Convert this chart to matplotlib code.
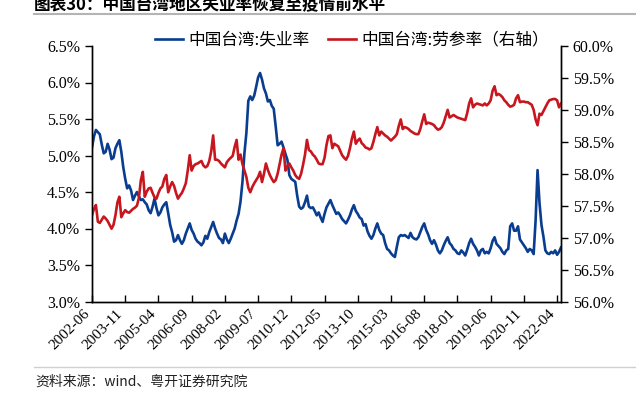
import pandas as pd
import matplotlib
matplotlib.use('Agg')
import matplotlib.pyplot as plt
from matplotlib.lines import Line2D
from matplotlib.ticker import FuncFormatter, MultipleLocator

# --- data: monthly, 2002-06 .. 2022-06 ---
start_month = '2002-06'

unemp = [
    5.11, 5.26, 5.35, 5.32, 5.29, 5.15, 5.03,
    5.05, 5.16, 5.08, 4.95, 4.97, 5.10, 5.16, 5.21, 5.05, 4.84, 4.68, 4.55,
    4.59, 4.52, 4.39, 4.45, 4.50, 4.44, 4.39, 4.40, 4.36, 4.33, 4.25, 4.21,
    4.30, 4.41, 4.28, 4.18, 4.22, 4.29, 4.33, 4.36, 4.21, 4.05, 3.95, 3.82,
    3.84, 3.91, 3.84, 3.79, 3.84, 3.93, 4.00, 4.07, 3.98, 3.93, 3.86, 3.82,
    3.80, 3.77, 3.81, 3.90, 3.86, 3.95, 4.02, 4.09, 4.00, 3.93, 3.87, 3.85,
    3.80, 3.93, 3.85, 3.80, 3.86, 3.93, 4.00, 4.11, 4.20, 4.37, 4.64, 5.03,
    5.31, 5.75, 5.81, 5.76, 5.82, 5.94, 6.07, 6.13, 6.04, 5.92, 5.85, 5.74,
    5.76, 5.68, 5.64, 5.40, 5.14, 5.16, 5.19, 5.11, 5.02, 4.94, 4.73, 4.68,
    4.66, 4.64, 4.45, 4.30, 4.27, 4.29, 4.36, 4.45, 4.30, 4.28, 4.29, 4.24,
    4.18, 4.22, 4.15, 4.09, 4.20, 4.29, 4.34, 4.39, 4.32, 4.26, 4.20, 4.22,
    4.18, 4.13, 4.10, 4.07, 4.12, 4.18, 4.26, 4.32, 4.24, 4.20, 4.15, 4.13,
    4.04, 4.06, 3.96, 3.90, 3.86, 3.91, 4.00, 4.07, 3.98, 3.93, 3.91, 3.80,
    3.72, 3.70, 3.66, 3.63, 3.61, 3.75, 3.88, 3.91, 3.90, 3.91, 3.89, 3.87,
    3.94, 3.88, 3.86, 3.85, 3.88, 3.95, 4.02, 4.07, 3.98, 3.92, 3.84, 3.79,
    3.84, 3.78, 3.70, 3.66, 3.70, 3.77, 3.83, 3.88, 3.80, 3.77, 3.72, 3.70,
    3.66, 3.65, 3.70, 3.67, 3.63, 3.71, 3.80, 3.86, 3.79, 3.75, 3.70, 3.63,
    3.70, 3.72, 3.66, 3.68, 3.66, 3.73, 3.83, 3.88, 3.79, 3.76, 3.73, 3.68,
    3.65, 3.70, 3.72, 4.03, 4.07, 3.97, 3.97, 4.03, 3.85, 3.81, 3.77, 3.73,
    3.68, 3.72, 3.70, 3.65, 4.11, 4.80, 4.35, 4.05, 3.89, 3.70, 3.66, 3.65,
    3.68, 3.66, 3.70, 3.64, 3.68, 3.74,
]

lfpr = [
    57.35, 57.45, 57.51, 57.25, 57.23, 57.28, 57.33,
    57.30, 57.26, 57.20, 57.14, 57.20, 57.35, 57.55, 57.64, 57.32, 57.38, 57.43, 57.40,
    57.39, 57.42, 57.45, 57.47, 57.50, 57.62, 57.90, 58.03, 57.64, 57.72, 57.77, 57.78,
    57.70, 57.63, 57.61, 57.70, 57.77, 57.80, 57.92, 57.98, 57.71, 57.80, 57.87, 57.81,
    57.70, 57.61, 57.66, 57.70, 57.77, 57.85, 58.05, 58.29, 58.05, 58.12, 58.15, 58.16,
    58.18, 58.20, 58.13, 58.10, 58.12, 58.20, 58.35, 58.60, 58.22, 58.22, 58.20, 58.16,
    58.13, 58.10, 58.18, 58.22, 58.25, 58.28, 58.42, 58.53, 58.22, 58.30, 58.15, 58.05,
    57.95, 57.78, 57.71, 57.79, 57.85, 57.90, 57.95, 58.03, 57.87, 58.00, 58.16, 58.06,
    57.98, 57.92, 57.87, 57.90, 58.00, 58.15, 58.30, 58.40, 58.05, 58.12, 58.16, 58.10,
    58.05, 57.98, 57.94, 57.92, 58.00, 58.14, 58.30, 58.53, 58.37, 58.35, 58.30, 58.27,
    58.22, 58.16, 58.15, 58.15, 58.25, 58.45, 58.59, 58.60, 58.40, 58.47, 58.45, 58.43,
    58.36, 58.29, 58.25, 58.22, 58.28, 58.40, 58.55, 58.66, 58.47, 58.52, 58.55, 58.48,
    58.45, 58.41, 58.40, 58.38, 58.40, 58.50, 58.62, 58.73, 58.60, 58.66, 58.63, 58.60,
    58.58, 58.55, 58.52, 58.55, 58.58, 58.62, 58.75, 58.85, 58.70, 58.73, 58.72, 58.70,
    58.67, 58.65, 58.63, 58.62, 58.62, 58.70, 58.82, 58.93, 58.78, 58.80, 58.79, 58.78,
    58.76, 58.72, 58.69, 58.70, 58.73, 58.80, 58.90, 59.00, 58.88, 58.90, 58.92, 58.90,
    58.88, 58.87, 58.86, 58.85, 58.84, 58.95, 59.10, 59.18, 59.04, 59.08, 59.10, 59.09,
    59.08, 59.07, 59.10, 59.07, 59.10, 59.15, 59.30, 59.37, 59.23, 59.25, 59.23, 59.20,
    59.15, 59.12, 59.08, 59.05, 59.06, 59.08, 59.18, 59.23, 59.12, 59.13, 59.13, 59.12,
    59.12, 59.10, 59.08, 59.00, 58.85, 58.76, 58.94, 58.92, 58.98, 59.04, 59.10, 59.15,
    59.16, 59.17, 59.17, 59.15, 59.04, 59.10,
]

tick_labels = ['2002-06', '2003-11', '2005-04', '2006-09', '2008-02', '2009-07',
               '2010-12', '2012-05', '2013-10', '2015-03', '2016-08', '2018-01',
               '2019-06', '2020-11', '2022-04']

months = pd.period_range(start_month, periods=len(unemp), freq='M').strftime('%Y-%m')
df = pd.DataFrame({'month': months, 'unemp': unemp, 'lfpr': lfpr})
x = list(range(len(df)))
tick_pos = [list(df['month']).index(t) for t in tick_labels]

BLUE = '#0a3d8f'
RED = '#c8161e'
CJK = ['Noto Sans CJK SC', 'DejaVu Sans']
SERIF = 'Liberation Serif'

fig = plt.figure(figsize=(6.36, 3.93), dpi=100)
ax = fig.add_axes([92 / 636, 1 - 301.5 / 393, (561 - 92) / 636, (301.5 - 46) / 393])
ax2 = ax.twinx()

l1, = ax.plot(x, df['unemp'], color=BLUE, lw=1.9, label='中国台湾:失业率')
l2, = ax2.plot(x, df['lfpr'], color=RED, lw=1.9, label='中国台湾:劳参率（右轴）')

ax.set_xlim(0, len(df) - 1)
ax.set_ylim(3.0, 6.5)
ax2.set_ylim(56.0, 60.0)
ax.yaxis.set_major_locator(MultipleLocator(0.5))
ax2.yaxis.set_major_locator(MultipleLocator(0.5))
ax.yaxis.set_major_formatter(FuncFormatter(lambda v, p: f'{v:.1f}%'))
ax2.yaxis.set_major_formatter(FuncFormatter(lambda v, p: f'{v:.1f}%'))

ax.set_xticks(tick_pos)
ax.set_xticklabels(tick_labels, rotation=45, ha='right', fontfamily=SERIF, fontsize=11)

for a in (ax, ax2):
    a.spines['top'].set_visible(False)
    for s in a.spines.values():
        s.set_linewidth(1.0)
        s.set_color('black')
ax.tick_params(axis='x', direction='in', length=5, width=1, pad=4)
ax.tick_params(axis='y', direction='out', length=5, width=1, labelsize=11.5)
ax2.tick_params(axis='y', direction='out', length=5, width=1, labelsize=11.5)
for lab in ax.get_yticklabels() + ax2.get_yticklabels():
    lab.set_fontfamily(SERIF)

# legend on top
fig.legend(handles=[l1, l2], loc='center', bbox_to_anchor=(352 / 636, 1 - 40 / 393),
           ncol=2, frameon=False, handlelength=1.7, handletextpad=0.3,
           columnspacing=1.1, prop={'family': CJK, 'size': 12})

# title (cut off at the top like the source image) and source note
fig.text(34 / 636, 1 - 10 / 393, '图表30：中国台湾地区失业率恢复至疫情前水平',
         fontfamily=CJK, fontsize=12, fontweight='bold', va='baseline', ha='left')
fig.add_artist(Line2D([34 / 636, 1.0], [1 - 14 / 393] * 2, color='#b4b4b4', lw=1.5))
fig.add_artist(Line2D([34 / 636, 1.0], [1 - 367 / 393] * 2, color='#d0d0d0', lw=1.0))
fig.text(35 / 636, 1 - 382 / 393, '资料来源：wind、粤开证券研究院', fontfamily=CJK,
         fontsize=10, style='italic', va='center', ha='left', color='#222222')

fig.savefig('out.png', dpi=100)
